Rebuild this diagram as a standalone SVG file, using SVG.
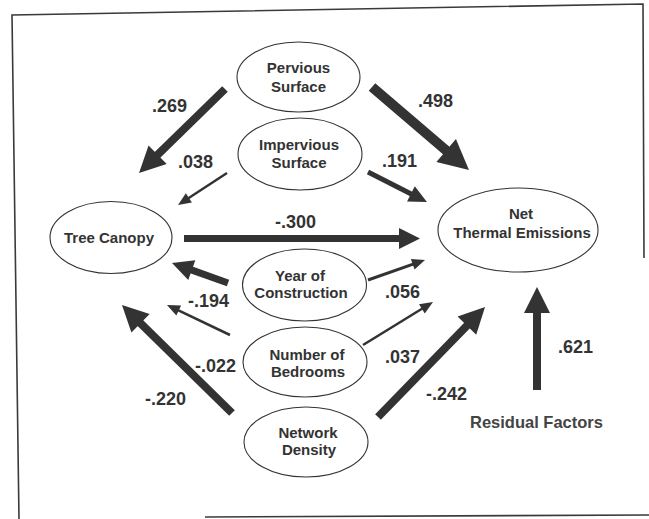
<svg xmlns="http://www.w3.org/2000/svg" width="649" height="519" viewBox="0 0 649 519">
<defs>
<style>
.frame{fill:none;stroke:#3a3a3a;stroke-width:1.6}
.node ellipse{fill:#fff;stroke:#333;stroke-width:1.1}
.node text{font-family:"Liberation Sans",Arial,sans-serif;font-weight:bold;font-size:15px;fill:#333;text-anchor:middle}
.conn line{stroke:#333;fill:none}
.lbl{font-family:"Liberation Sans",Arial,sans-serif;font-weight:bold;font-size:18px;fill:#333}
.res{font-family:"Liberation Sans",Arial,sans-serif;font-weight:bold;font-size:16.5px;fill:#444}
marker path{fill:#333}
</style>
<marker id="aXL" markerUnits="userSpaceOnUse" markerWidth="30" markerHeight="30" refX="2" refY="15" orient="auto" overflow="visible"><path d="M0,0 L30,15 L0,30 z"/></marker>
<marker id="aL" markerUnits="userSpaceOnUse" markerWidth="26" markerHeight="26" refX="2" refY="13" orient="auto" overflow="visible"><path d="M0,0 L26,13 L0,26 z"/></marker>
<marker id="aM" markerUnits="userSpaceOnUse" markerWidth="21" markerHeight="21" refX="2" refY="10.5" orient="auto" overflow="visible"><path d="M0,0 L21,10.5 L0,21 z"/></marker>
<marker id="aS18" markerUnits="userSpaceOnUse" markerWidth="18" markerHeight="17" refX="2" refY="8.5" orient="auto" overflow="visible"><path d="M0,0 L18,8.5 L0,17 z"/></marker>
<marker id="aS" markerUnits="userSpaceOnUse" markerWidth="13" markerHeight="11" refX="2" refY="5.5" orient="auto" overflow="visible"><path d="M0,0 L13,5.5 L0,11 z"/></marker>
</defs>
<rect width="649" height="519" fill="#fff"/>
<path class="frame" d="M19,519 L12,15 L643,4 L644,258"/>
<path class="frame" d="M205,517 L649,515"/>

<g id="connectors" class="conn">
<line x1="225" y1="89" x2="156.2" y2="156.2" stroke-width="8" marker-end="url(#aL)"/>
<line x1="227" y1="173" x2="187.2" y2="199" stroke-width="2.5" marker-end="url(#aS)"/>
<line x1="372" y1="87" x2="447.7" y2="151.8" stroke-width="10" marker-end="url(#aXL)"/>
<line x1="368" y1="172" x2="412.7" y2="194.8" stroke-width="5" marker-end="url(#aS18)"/>
<line x1="184" y1="238.5" x2="401" y2="238.5" stroke-width="7" marker-end="url(#aM)"/>
<line x1="228" y1="283" x2="189.9" y2="269.4" stroke-width="7" marker-end="url(#aM)"/>
<line x1="230" y1="335" x2="176.9" y2="309.7" stroke-width="2.5" marker-end="url(#aS)"/>
<line x1="232" y1="413" x2="139.1" y2="321.8" stroke-width="8" marker-end="url(#aL)"/>
<line x1="368" y1="280" x2="414.6" y2="263.6" stroke-width="3" marker-end="url(#aS)"/>
<line x1="363" y1="345" x2="423.6" y2="307.8" stroke-width="2.5" marker-end="url(#aS)"/>
<line x1="378" y1="417" x2="468.3" y2="324.2" stroke-width="8" marker-end="url(#aL)"/>
<line x1="537" y1="390" x2="537" y2="311" stroke-width="8" marker-end="url(#aL)"/>
</g>

<g id="labels">
<text class="lbl" x="152" y="112">.269</text>
<text class="lbl" x="178" y="168">.038</text>
<text class="lbl" x="418" y="107">.498</text>
<text class="lbl" x="382" y="167">.191</text>
<text class="lbl" x="275" y="228">-.300</text>
<text class="lbl" x="188" y="307">-.194</text>
<text class="lbl" x="385" y="298">.056</text>
<text class="lbl" x="195" y="372">-.022</text>
<text class="lbl" x="385" y="363">.037</text>
<text class="lbl" x="145" y="405">-.220</text>
<text class="lbl" x="426" y="400">-.242</text>
<text class="lbl" x="558" y="353">.621</text>
</g>

<g id="pervious" class="node">
<ellipse cx="298.5" cy="77" rx="61.5" ry="35"/>
<text x="298.5" y="73">Pervious</text>
<text x="298.5" y="92">Surface</text>
</g>
<g id="impervious" class="node">
<ellipse cx="300" cy="154" rx="62" ry="36"/>
<text x="299" y="150">Impervious</text>
<text x="299" y="168">Surface</text>
</g>
<g id="tree-canopy" class="node">
<ellipse cx="111" cy="237.5" rx="61" ry="36"/>
<text x="109" y="243">Tree Canopy</text>
</g>
<g id="net-thermal" class="node">
<ellipse cx="518" cy="230" rx="80" ry="42"/>
<text x="521" y="219">Net</text>
<text x="522" y="238">Thermal Emissions</text>
</g>
<g id="year" class="node">
<ellipse cx="304.5" cy="285" rx="62" ry="36"/>
<text x="300" y="281">Year of</text>
<text x="301" y="298">Construction</text>
</g>
<g id="bedrooms" class="node">
<ellipse cx="305" cy="362" rx="62" ry="35"/>
<text x="307" y="360">Number of</text>
<text x="308" y="377">Bedrooms</text>
</g>
<g id="network" class="node">
<ellipse cx="306" cy="442" rx="62" ry="35"/>
<text x="308" y="438">Network</text>
<text x="309" y="455">Density</text>
</g>
<g id="residual">
<text class="res" x="470" y="428">Residual Factors</text>
</g>
</svg>
